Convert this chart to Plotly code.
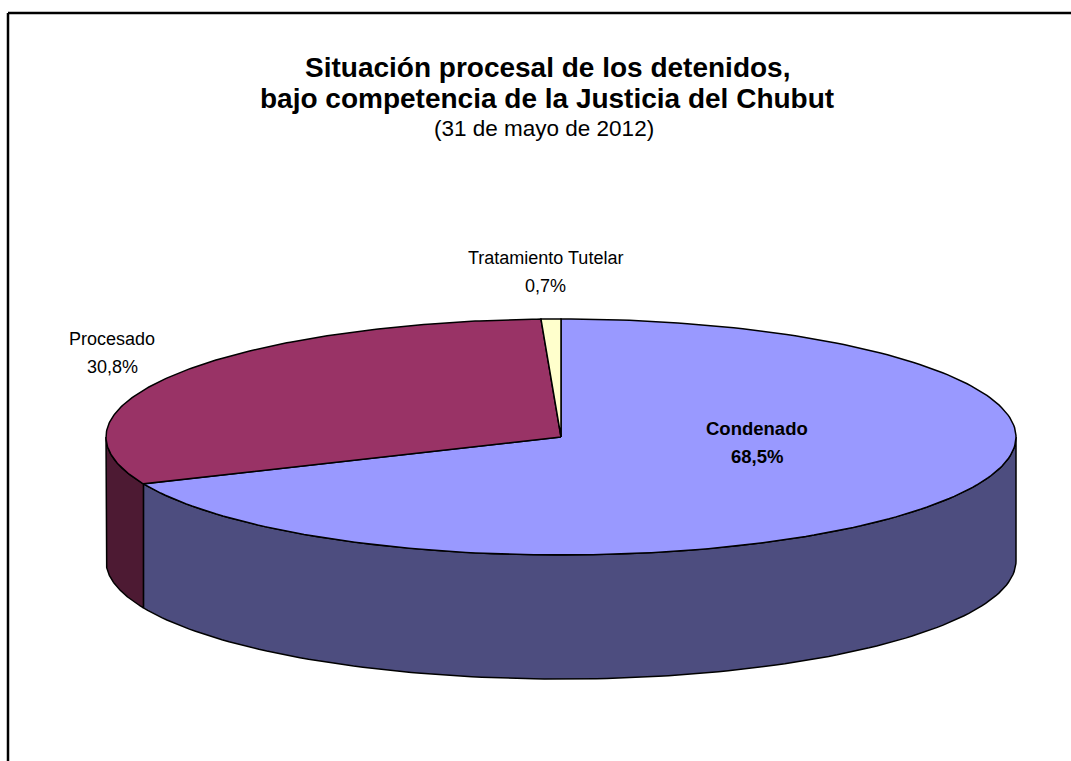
import numpy as np
import plotly.graph_objects as go

# ---- data ----
categories = ["Condenado", "Procesado", "Tratamiento Tutelar"]
values = [68.5, 30.8, 0.7]
title_lines = ["Situación procesal de los detenidos,", "bajo competencia de la Justicia del Chubut"]
subtitle = "(31 de mayo de 2012)"

# ---- style ----
top_colors = ["#9999FF", "#993366", "#FFFFCC"]
side_colors = ["#4D4D7F", "#4D1A33", "#80806A"]
label_pos = [(757, 442, True), (112, 353, False), (545, 272, False)]
label_gap = 28

W, H = 1071, 761
cx, cy, rx, ry, depth = 561, 437, 455, 118, 124
FONT = "Liberation Sans, Arial"


def pt(theta_deg, dy=0.0):
    t = np.radians(theta_deg)
    return cx + rx * np.sin(t), cy - ry * np.cos(t) + dy


fig = go.Figure()
total = sum(values)
angles = [0.0]
for v in values:
    angles.append(angles[-1] + 360.0 * v / total)

# side walls (front half: 90..270 degrees clockwise from top)
for i, cat in enumerate(categories):
    a, b = max(angles[i], 90.0), min(angles[i + 1], 270.0)
    if b <= a:
        continue
    th = np.linspace(a, b, 120)
    xs_top, ys_top = pt(th)
    xs_bot, ys_bot = pt(th[::-1], depth)
    xs = np.concatenate([xs_top, xs_bot, xs_top[:1]])
    ys = np.concatenate([ys_top, ys_bot, ys_top[:1]])
    fig.add_trace(go.Scatter(x=xs, y=ys, mode="lines", fill="toself",
                             fillcolor=side_colors[i],
                             line=dict(color="black", width=1.5),
                             hoverinfo="skip", showlegend=False))

# top faces
for i, cat in enumerate(categories):
    th = np.linspace(angles[i], angles[i + 1], 200)
    xa, ya = pt(th)
    xs = np.concatenate([[cx], xa, [cx]])
    ys = np.concatenate([[cy], ya, [cy]])
    fig.add_trace(go.Scatter(x=xs, y=ys, mode="lines", fill="toself",
                             fillcolor=top_colors[i],
                             line=dict(color="black", width=1.5),
                             name=cat, hoverinfo="name", showlegend=False))

annotations = []
for i, cat in enumerate(categories):
    x, y, bold = label_pos[i]
    pct = f"{values[i]:.1f}".replace(".", ",") + "%"
    for j, line in enumerate([cat, pct]):
        txt = f"<b>{line}</b>" if bold else line
        annotations.append(dict(x=x, y=y + (j - 0.5) * label_gap, xref="x", yref="y",
                                text=txt, showarrow=False,
                                font=dict(family=FONT, size=18.5 if bold else 18, color="black")))

annotations.append(dict(x=547, y=67, xref="x", yref="y", text=f"<b>{title_lines[0]}</b>",
                        showarrow=False, font=dict(family=FONT, size=28, color="black")))
annotations.append(dict(x=547, y=98, xref="x", yref="y", text=f"<b>{title_lines[1]}</b>",
                        showarrow=False, font=dict(family=FONT, size=28, color="black")))
annotations.append(dict(x=544, y=128, xref="x", yref="y", text=subtitle,
                        showarrow=False, font=dict(family=FONT, size=22.5, color="black")))

fig.update_layout(
    width=W, height=H, autosize=False,
    margin=dict(l=0, r=0, t=0, b=0),
    paper_bgcolor="white", plot_bgcolor="white",
    xaxis=dict(range=[0, W], visible=False, fixedrange=True),
    yaxis=dict(range=[H, 0], visible=False, fixedrange=True),
    annotations=annotations,
    shapes=[
        dict(type="line", xref="x", yref="y", x0=8, y0=13, x1=W + 5, y1=13,
             line=dict(color="black", width=2.5)),
        dict(type="line", xref="x", yref="y", x0=8, y0=13, x1=8, y1=H + 5,
             line=dict(color="black", width=2.5)),
    ],
)

fig.write_html("out.html", config={"displayModeBar": False},
               post_script="document.body.style.margin='0';document.body.style.overflow='hidden';")
